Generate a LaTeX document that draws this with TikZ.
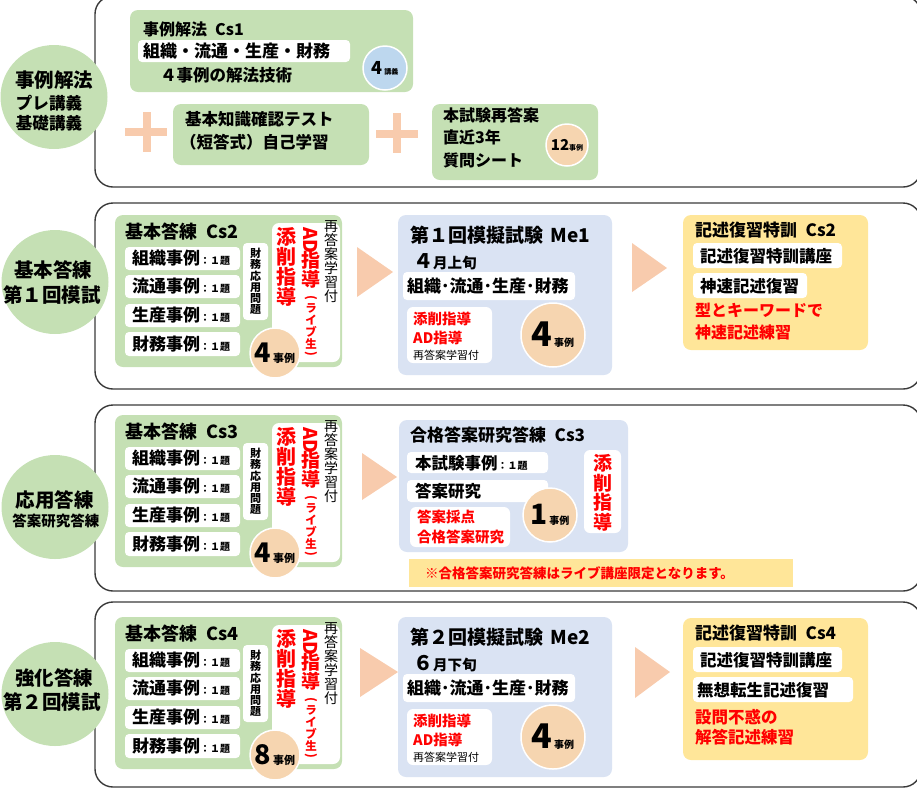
\documentclass[tikz,border=0pt]{standalone}
\usepackage{fontspec}
\setmainfont{Noto Sans CJK JP}
\usetikzlibrary{fit,shapes.geometric}
\definecolor{gr}{HTML}{C5E0B4}
\definecolor{bl}{HTML}{DAE3F3}
\definecolor{ye}{HTML}{FFE699}
\definecolor{pc}{HTML}{F6D5B0}
\definecolor{pk}{HTML}{F8CBAD}
\definecolor{bc}{HTML}{BDD7EE}
\definecolor{rd}{HTML}{FF0000}
\definecolor{ln}{HTML}{3A3A3A}
\newcommand\fz[1]{\fontsize{#1}{#1}\selectfont}
\tikzset{
  frame/.style={draw=ln, line width=1.4pt, rounded corners=18pt, inner sep=0pt},
  gbox/.style={fill=gr, rounded corners=8pt, inner sep=0pt},
  bbox/.style={fill=bl, rounded corners=8pt, inner sep=0pt},
  ybox/.style={fill=ye, rounded corners=8pt, inner sep=0pt},
  wbox/.style={fill=white, rounded corners=4pt, inner sep=0pt},
  lab/.style={anchor=west, inner sep=0pt, font=\bfseries},
  ctext/.style={inner sep=0pt, font=\bfseries},
  vtext/.style={inner sep=0pt, align=center},
  paren/.style={inner sep=0pt, rotate=-90, text=rd, font=\bfseries\fz{12}},
  rowcirc/.style={ellipse, fill=gr, inner sep=0pt, minimum width=107pt, minimum height=104pt},
  pcirc/.style={circle, fill=pc, draw=white, line width=1.5pt, inner sep=0pt, font=\bfseries},
}
% left green block (basic answer practice)
\newcommand\lblock[4]{%
\begin{scope}[yshift=-#4pt]
\node[gbox, fit={(115,215)(342,367)}] (g#1) {};
\node[lab, font=\bfseries\fz{18}] (gt#1) at (125,232) {基本答練\hspace{0.5em}#2};
\node[wbox, fit={(125,247)(240,270)}] (ga#1) {};
\node[wbox, fit={(125,275)(240,298)}] (gb#1) {};
\node[wbox, fit={(125,304)(240,327)}] (gc#1) {};
\node[wbox, fit={(125,332)(240,356)}] (gd#1) {};
\node[lab] (gat#1) at (132,258.5) {{\fz{17}組織事例}{\fz{10}：１題}};
\node[lab] (gbt#1) at (132,286.5) {{\fz{17}流通事例}{\fz{10}：１題}};
\node[lab] (gct#1) at (132,315.5) {{\fz{17}生産事例}{\fz{10}：１題}};
\node[lab] (gdt#1) at (132,344) {{\fz{17}財務事例}{\fz{10}：１題}};
\node[wbox, fit={(243,243)(268,320)}] (gv#1) {};
\node[vtext, font=\bfseries\fontsize{11}{11.2}\selectfont] (gvt#1) at (255.5,281.5) {財\\務\\応\\用\\問\\題};
\node[wbox, rounded corners=7pt, fit={(272,223)(340,362)}] (gw#1) {};
\node[vtext, text=rd, font=\bfseries\fontsize{20}{20}\selectfont, anchor=north] (gs#1) at (286,227) {添\\削\\指\\導};
\node[vtext, text=rd, font=\bfseries\fontsize{19}{19}\selectfont, anchor=north] (gad#1) at (311,227) {\rotatebox{-90}{AD}\\[-3pt]指\\導};
\node[paren] (gpo#1) at (311,297.5) {(};
\node[vtext, text=rd, font=\bfseries\fontsize{11.5}{12}\selectfont] (gl#1) at (311,326) {ラ\\イ\\ブ\\生};
\node[paren] (gpc#1) at (311,354) {)};
\node[vtext, font=\fontsize{14}{14}\selectfont, anchor=north] (gq#1) at (331,220) {再\\答\\案\\学\\習\\付};
\node[pcirc, minimum size=50pt] (gn#1) at (275,353) {{\fz{27}#3}\,{\fz{11}事例}};
\end{scope}}
% mock exam block
\newcommand\meblock[5]{%
\begin{scope}[yshift=-#5pt]
\node[bbox, fit={(398,215)(612,375)}] (m#1) {};
\node[lab, font=\bfseries\fz{19}] (mt#1) at (410,235) {#2};
\node[lab] (md#1) at (413,262) {{\fz{20}#3}{\fz{14.5}#4}};
\node[wbox, fit={(403,272)(575,300)}] (mw#1) {};
\node[lab, font=\bfseries\fz{17}] (mwt#1) at (407,286) {組織･流通･生産･財務};
\node[wbox, rounded corners=6pt, fit={(407,307)(492,363)}] (mr#1) {};
\node[lab, text=rd, font=\bfseries\fz{14.5}] (mra#1) at (413,319) {添削指導};
\node[lab, text=rd, font=\bfseries\fz{14.5}] (mrb#1) at (413,338) {AD指導};
\node[lab, font=\fz{11}] (mrc#1) at (413,355) {再答案学習付};
\node[pcirc, minimum size=64pt] (mc#1) at (553,335) {{\fz{34}4}\,{\fz{10}事例}};
\end{scope}}
\begin{document}
\begin{tikzpicture}[x=1pt,y=-1pt]
\useasboundingbox (0,0) rectangle (917,788);
% frames
\node[frame, fit={(95,-4)(921,187)}] (f1) {};
\node[frame, fit={(95,203)(921,389)}] (f2) {};
\node[frame, fit={(95,405)(921,591)}] (f3) {};
\node[frame, fit={(95,602)(921,787)}] (f4) {};
% row circles
\node[rowcirc] (e1) at (54,97) {};
\node[ctext, font=\bfseries\fz{19.5}] (e1a) at (54,80) {事例解法};
\node[ctext, font=\bfseries\fz{16.5}] (e1b) at (49,103) {プレ講義};
\node[ctext, font=\bfseries\fz{16.5}] (e1c) at (49,123) {基礎講義};
\node[rowcirc] (e2) at (55,282) {};
\node[ctext, font=\bfseries\fz{19.5}] (e2a) at (53,270) {基本答練};
\node[ctext, font=\bfseries\fz{19.5}] (e2b) at (52,295) {第１回模試};
\node[rowcirc] (e3) at (55,507) {};
\node[ctext, font=\bfseries\fz{19.5}] (e3a) at (55,500) {応用答練};
\node[ctext, font=\bfseries\fz{14.5}] (e3b) at (56,521) {答案研究答練};
\node[rowcirc] (e4) at (55,694) {};
\node[ctext, font=\bfseries\fz{19.5}] (e4a) at (54,678) {強化答練};
\node[ctext, font=\bfseries\fz{19.5}] (e4b) at (52,702) {第２回模試};
% row 1
\node[gbox, fit={(130,10)(413,92)}] (s1) {};
\node[lab, font=\bfseries\fz{16}] (s1t) at (143,29) {事例解法\hspace{0.5em}Cs1};
\node[wbox, fit={(138,40)(350,62)}] (s1w) {};
\node[lab, font=\bfseries\fz{17}] (s1wt) at (143,51) {組織・流通・生産・財務};
\node[lab, font=\bfseries\fz{16.5}] (s1b) at (160,75) {４事例の解法技術};
\node[circle, fill=bc, draw=white, line width=1.5pt, minimum size=44pt, inner sep=0pt, font=\bfseries] (s1c) at (385,68) {{\fz{18}4}\,{\fz{7}講義}};
\fill[pk] (125,128) rectangle (167,136);
\fill[pk] (143,112) rectangle (151,152);
\node[gbox, fit={(173,104)(369,165)}] (s2) {};
\node[lab, font=\bfseries\fz{16.5}] (s2a) at (185,119) {基本知識確認テスト};
\node[lab, font=\bfseries\fz{16.5}] (s2b) at (180,142) {（短答式）自己学習};
\fill[pk] (376,130) rectangle (418,138);
\fill[pk] (393,113) rectangle (401,153);
\node[gbox, fit={(432,104)(598,180)}] (s3) {};
\node[lab, font=\bfseries\fz{16}] (s3a) at (443,115) {本試験再答案};
\node[lab, font=\bfseries\fz{16}] (s3b) at (443,137) {直近3年};
\node[lab, font=\bfseries\fz{16}] (s3c) at (443,160) {質問シート};
\node[pcirc, minimum size=42pt] (s3n) at (567,145) {{\fz{15}12}{\fz{7}事例}};
% left blocks
\lblock{2}{Cs2}{4}{0}
\lblock{3}{Cs3}{4}{200}
\lblock{4}{Cs4}{8}{402}
% triangles
\fill[pk] (357,247) -- (357,297) -- (393,272) -- cycle;
\fill[pk] (632,243) -- (632,292) -- (667,268) -- cycle;
\fill[pk] (362,453) -- (362,500) -- (397,477) -- cycle;
\fill[pk] (360,648) -- (360,697) -- (398,672) -- cycle;
\fill[pk] (635,647) -- (635,698) -- (670,672) -- cycle;
% mock exams
\meblock{2}{第１回模擬試験\hspace{0.4em}Me1}{４}{月上旬}{0}
\meblock{4}{第２回模擬試験\hspace{0.4em}Me2}{６}{月下旬}{402}
% row 2 yellow
\node[ybox, fit={(683,215)(868,350)}] (y2) {};
\node[lab, font=\bfseries\fz{17}] (y2t) at (695,230) {記述復習特訓\hspace{0.5em}Cs2};
\node[wbox, fit={(693,243)(842,268)}] (y2a) {};
\node[lab, font=\bfseries\fz{16.5}] (y2at) at (700,256) {記述復習特訓講座};
\node[wbox, fit={(693,273)(807,298)}] (y2b) {};
\node[lab, font=\bfseries\fz{16.5}] (y2bt) at (700,286) {神速記述復習};
\node[lab, text=rd, font=\bfseries\fz{16}] (y2c) at (695,310) {型とキーワードで};
\node[lab, text=rd, font=\bfseries\fz{16}] (y2d) at (695,332) {神速記述練習};
% row 3 blue
\node[bbox, fit={(399,420)(628,552)}] (k3) {};
\node[lab, font=\bfseries\fz{17}] (k3t) at (410,435) {合格答案研究答練\hspace{0.5em}Cs3};
\node[wbox, fit={(407,452)(548,473)}] (k3a) {};
\node[lab] (k3at) at (415,463) {{\fz{16.5}本試験事例}{\fz{10}：１題}};
\node[wbox, fit={(407,480)(548,502)}] (k3b) {};
\node[lab, font=\bfseries\fz{16.5}] (k3bt) at (415,491) {答案研究};
\node[wbox, rounded corners=6pt, fit={(410,507)(510,547)}] (k3c) {};
\node[lab, text=rd, font=\bfseries\fz{14.5}] (k3c1) at (417,517) {答案採点};
\node[lab, text=rd, font=\bfseries\fz{14.5}] (k3c2) at (417,537) {合格答案研究};
\node[pcirc, minimum size=54pt] (k3n) at (550,515) {{\fz{28}1}\,{\fz{10}事例}};
\node[wbox, rounded corners=6pt, fit={(584,450)(621,533)}] (k3v) {};
\node[vtext, text=rd, font=\bfseries\fontsize{19}{19.5}\selectfont] (k3vt) at (602.5,493) {添\\削\\指\\導};
\node[fill=ye, inner sep=0pt, fit={(409,559)(793,587)}] (note) {};
\node[lab, text=rd, font=\bfseries\fz{13.5}] (notet) at (425,573) {※合格答案研究答練はライブ講座限定となります。};
% row 4 yellow
\node[ybox, fit={(683,618)(868,760)}] (y4) {};
\node[lab, font=\bfseries\fz{17}] (y4t) at (695,633) {記述復習特訓\hspace{0.5em}Cs4};
\node[wbox, fit={(693,647)(842,672)}] (y4a) {};
\node[lab, font=\bfseries\fz{16.5}] (y4at) at (700,660) {記述復習特訓講座};
\node[wbox, fit={(693,677)(853,702)}] (y4b) {};
\node[lab, font=\bfseries\fz{16.5}] (y4bt) at (697,690) {無想転生記述復習};
\node[lab, text=rd, font=\bfseries\fz{16.5}] (y4c) at (695,717) {設問不惑の};
\node[lab, text=rd, font=\bfseries\fz{16.5}] (y4d) at (695,737) {解答記述練習};
\end{tikzpicture}
\end{document}
